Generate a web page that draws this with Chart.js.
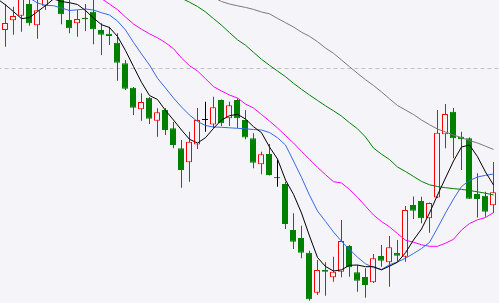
<!DOCTYPE html>
<html><head><meta charset="utf-8">
<script src="https://cdn.jsdelivr.net/npm/chart.js@4.4.1/dist/chart.umd.min.js"></script>
<style>html,body{margin:0;padding:0;background:#f4f4f9;overflow:hidden}#wrap{width:499px;height:303px}</style>
</head><body><div id="wrap"><canvas id="c" width="499" height="303"></canvas></div>
<script>
// Session index of the first candle (partly cut off at the left edge)
const firstIndex = -1;

const open = [279, 273, 282.7, 287.3, 299, 277.7, 297.3, 323, 309, 283, 279.7, 285.3, 291.3, 273, 269.3, 260.3,
  239.7, 215.3, 193.7, 205.3, 182.3, 193, 174.7, 154.7, 140.7, 158.5, 183, 178.5, 203, 184.8, 203, 183,
  164.7, 138.7, 149, 124.7, 119, 73, 65, 50.3, 10.3, 33, 25.7, 31.3, 57, 30.7, 26, 20.7,
  47, 40.7, 50, 46.3, 98, 102, 84.7, 105.5, 168.7, 191.3, 166.3, 164.7, 109, 107.3, 97.7];
const high = [281, 299, 296.3, 311, 305, 306, 317, 328, 313, 303, 293, 299, 304, 279.7, 276.3, 269.7,
  243, 216, 209.7, 206, 194.7, 195, 181, 163, 171.3, 195, 201.3, 206.3, 203.5, 201.3, 204.7, 193,
  169.7, 151.3, 159, 143, 121.3, 89.7, 77.3, 52.3, 43, 40.7, 46.3, 83, 58, 38, 34.7, 49,
  58, 67, 63, 97, 106.5, 106.3, 100.5, 193, 199, 195, 171.3, 165.5, 129.7, 111.3, 141];
const low = [270, 256.3, 268.3, 271.3, 277.3, 264.3, 293, 306, 278.7, 269.7, 266.3, 272, 258.7, 248, 258, 222.3,
  213, 188, 182.3, 179, 166.3, 168, 154.7, 115.3, 121.3, 154, 171.3, 174.7, 177, 177, 175, 163.7,
  134.7, 128.7, 127.5, 116.3, 74, 54, 44.7, 2.3, 8, 7.3, 21.3, 25.7, 26.3, 11.3, 5.3, 20,
  36.3, 16.3, 41.3, 41.3, 84, 79.7, 70.3, 105, 154.7, 144.7, 133, 104, 85.5, 86.3, 89.7];
const close = [273, 280, 287, 307, 279.7, 292.7, 313, 311, 288.7, 274.7, 284, 283.7, 273.7, 268.3, 267, 240.3,
  214.2, 195.3, 201, 184.3, 190.7, 173, 158, 133, 161.3, 183, 183, 195.7, 179.7, 197.8, 184.7, 165.5,
  140.3, 148.7, 128, 124.7, 79, 61.3, 50.3, 3.7, 33, 31.3, 31.3, 62, 35.7, 22.3, 18, 44.7,
  42.3, 55.7, 47.3, 93, 92.3, 84.7, 100, 170.3, 189, 164.7, 163.7, 104.3, 104, 91.3, 110.7];

// Moving-average lines (start = session index of first value)
const ma5Start = -1;
const ma5 = [304, 298.1, 291.4, 284.3, 285.5, 291.4, 297.4, 304, 301.5, 300.3, 298.5, 292.5, 285, 278.3, 275.5, 266.5,
  252.5, 236.5, 220.7, 207.5, 203.5, 192.5, 183, 173, 163.7, 160, 165.3, 174.7, 183, 187.3, 188.7, 184,
  176.3, 170.3, 156, 144, 123, 108.7, 90, 67, 45.5, 36.5, 32, 33.2, 37.7, 38, 36.3, 36.3,
  33.2, 36.8, 40.8, 50.3, 63, 74, 90, 108, 125, 142, 156, 158, 146.3, 131, 118];
const ma10Start = -1;
const ma10 = [321, 317, 313, 309, 305, 300, 297.7, 297.3, 295, 292.5, 293.2, 294, 293, 290.3, 288, 282,
  273, 260.6, 249, 238, 224.7, 215, 205, 196, 188, 181.5, 177.5, 176, 175.7, 175.2, 174.7, 174.2,
  173.5, 173, 170.5, 165.3, 158, 142, 125.6, 107.8, 92, 81.6, 71, 61.7, 53.7, 45.8, 39.2, 35.4,
  33.5, 38.3, 41, 44.8, 49.5, 54.5, 60.6, 75, 90, 104, 116.5, 122.5, 126, 127.7, 129];
const ma20Start = 10;
const ma20 = [315.5, 310, 304.4, 298.9, 293.4, 286, 279, 273.8, 269.2, 265.2, 260.3, 254.3, 245, 237.3, 232, 224.3,
  216.4, 212, 208, 205, 199, 195, 188.5, 182, 175, 167.5, 160, 151.7, 143.7, 135.7, 128.3, 121.3,
  120, 113.6, 105.7, 96.8, 88, 81.5, 76.1, 69.4, 62.8, 60.8, 58.2, 56.7, 56.7, 59.8, 63.7, 73,
  79.5, 83.2, 85.5, 90.5];
const ma60Start = 20;
const ma60 = [313, 309, 304.8, 300.8, 296.5, 291.1, 284.4, 277.8, 270.4, 263.2, 257.8, 250.7, 243.7, 237.7, 232, 226.3,
  219.7, 213.7, 208, 202.6, 197.2, 192.2, 186.9, 180.3, 174.2, 166, 155, 148.8, 143.5, 136, 131.5, 126.5,
  121.6, 118.2, 116.5, 115.3, 114.4, 113.6, 112.5, 111.2, 109.8, 108];
const ma120Start = 25;
const ma120 = [309.5, 305.5, 301.5, 299, 297.2, 295.6, 293.6, 291, 289.2, 284.6, 280.3, 276, 270.8, 266.7, 261.3, 255,
  249.7, 243, 236.3, 229.7, 223.3, 217.5, 211.1, 204.2, 197.5, 193, 188.5, 183, 178.3, 174, 171, 168,
  165.3, 162.5, 160, 156.8, 153.6];

// Reference (dashed) price level
const refLevels = [234.5];

const BG = '#f4f4f9', UP = '#ff0000', DOWN = '#008000', FLAT = '#000000';
const idx = open.map((_, i) => i + firstIndex);
const dir = i => close[i] > open[i] ? 1 : (close[i] < open[i] ? -1 : 0);
const candleColor = i => dir(i) > 0 ? UP : (dir(i) < 0 ? DOWN : FLAT);

const bodies = idx.map((x, i) => ({x, y: [open[i], close[i]]}));
const wicks = idx.map((x, i) => ({x, y: [low[i], high[i]]}));
const series = (arr, start) => arr.map((v, j) => ({x: start + j, y: v}));
const lineDs = (arr, start, color) => ({
  type: 'line', data: series(arr, start), borderColor: color, borderWidth: 1,
  pointRadius: 0, tension: 0, fill: false, xAxisID: 'xw', yAxisID: 'y', order: 0
});

const datasets = [
  lineDs(ma5, ma5Start, '#000000'),
  lineDs(ma10, ma10Start, '#3568e6'),
  lineDs(ma20, ma20Start, '#ff00ff'),
  lineDs(ma60, ma60Start, '#008000'),
  lineDs(ma120, ma120Start, '#7a7a7a'),
  {
    type: 'bar', data: bodies, xAxisID: 'xb', yAxisID: 'y', order: 1,
    barThickness: 6, grouped: false, borderWidth: 1, borderSkipped: false,
    minBarLength: 1, inflateAmount: 0,
    backgroundColor: c => dir(c.dataIndex) > 0 ? BG : candleColor(c.dataIndex),
    borderColor: c => candleColor(c.dataIndex)
  },
  {
    type: 'bar', data: wicks, xAxisID: 'xw', yAxisID: 'y', order: 2,
    barThickness: 1, grouped: false, borderWidth: 0, inflateAmount: 0,
    backgroundColor: c => candleColor(c.dataIndex)
  }
];
refLevels.forEach(v => datasets.push({
  type: 'line', data: [{x: firstIndex, y: v}, {x: idx[idx.length - 1] + 1, y: v}],
  borderColor: '#c2c2c6', borderWidth: 1, borderDash: [4, 3], pointRadius: 0,
  xAxisID: 'xw', yAxisID: 'y', order: 3
}));

new Chart(document.getElementById('c'), {
  type: 'bar',
  data: {datasets},
  options: {
    responsive: false, animation: false, devicePixelRatio: 1, events: [],
    layout: {padding: 0},
    plugins: {legend: {display: false}, tooltip: {enabled: false}},
    scales: {
      xb: {type: 'linear', display: false, offset: false, min: -0.625, max: 61.75},
      xw: {type: 'linear', display: false, offset: false, min: -0.6875, max: 61.6875},
      y: {type: 'linear', display: false, min: 0, max: 303}
    }
  }
});
</script>
</body></html>
